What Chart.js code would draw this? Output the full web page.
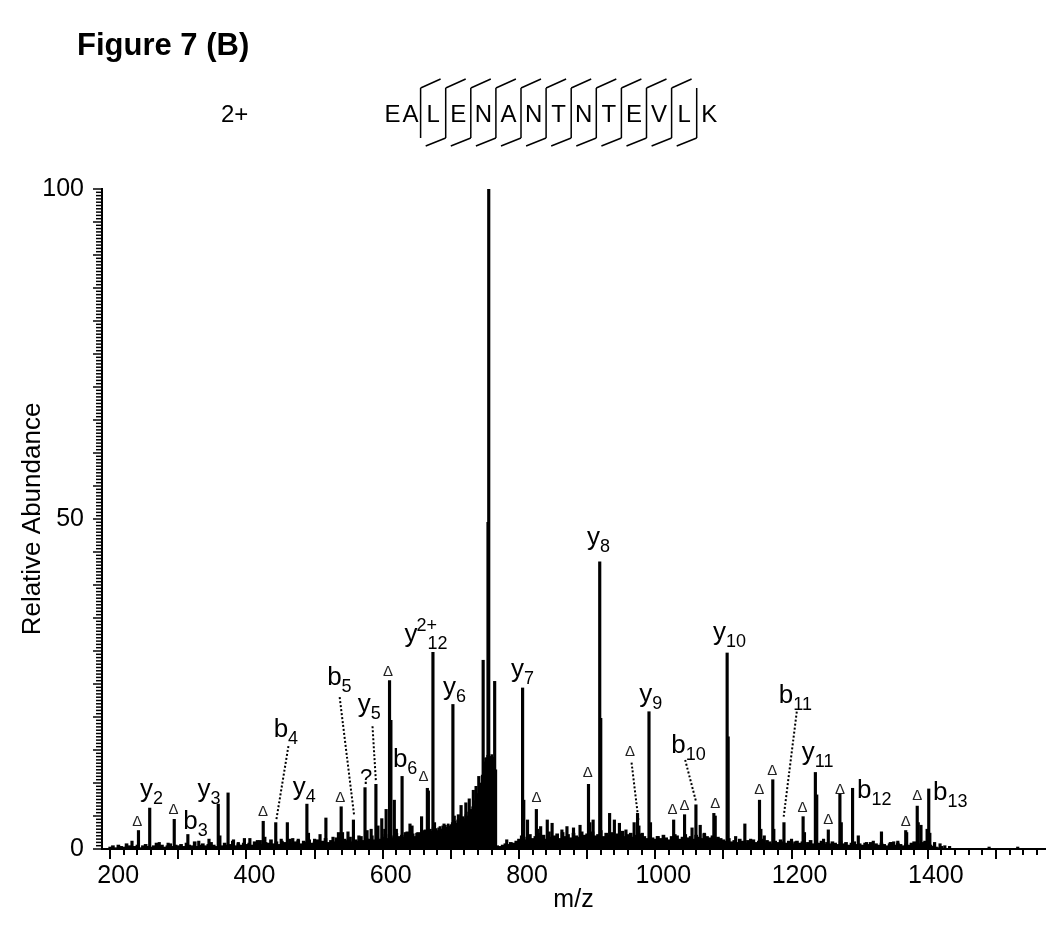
<!DOCTYPE html>
<html>
<head>
<meta charset="utf-8">
<script src="https://cdn.jsdelivr.net/npm/chart.js@4.4.1/dist/chart.umd.min.js"></script>
<style>
  html, body { margin: 0; padding: 0; background: #fff; }
  canvas { display: block; }
</style>
</head>
<body>
<canvas id="spectrum" width="1050" height="929"></canvas>
<script>
// MS/MS spectrum of EALENANTNTEVLK (2+), stick peaks on a linear m/z axis

// labelled and larger fragment peaks (m/z, relative abundance)
const peakMz = [232, 241.5, 258, 272, 285, 294, 314, 330, 345, 358.6, 361, 373, 381, 388, 397, 405, 416,
  424.6, 427, 443, 451, 460, 468, 476, 488.7, 491, 500, 508, 516.6, 527, 535, 539, 541, 549, 557, 565,
  574, 577, 583, 590, 593, 598.6, 603, 605, 610, 612, 617, 620, 628.4, 633, 640, 643, 650, 657, 665.5,
  667, 673.7, 676, 684, 690, 703, 705, 711, 715, 722, 727, 733, 737, 741, 747.4, 751.4, 754.5, 755.6,
  759.5, 764.3, 782, 805.3, 807, 812.5, 825.5, 827, 831.8, 841.5, 848.6, 863, 870.4, 880, 889.6, 902,
  904, 908.8, 918.5, 920, 933, 940, 947.4, 957, 969, 974, 976, 981, 990.8, 993, 1003, 1015, 1027, 1029,
  1043, 1054, 1059.7, 1066, 1072, 1086, 1088, 1105.5, 1107, 1118, 1131.5, 1140, 1153, 1155, 1160,
  1172.5, 1174, 1188.9, 1200, 1205, 1217, 1219, 1235, 1237, 1247, 1254, 1271, 1273, 1289.6, 1298,
  1310, 1320, 1332, 1345, 1350, 1356, 1367.6, 1369, 1384.5, 1386, 1390, 1399, 1401.4, 1403, 1410,
  1418, 1425, 1432, 1490, 1532];
const peakInt = [1.2, 2.8, 6.2, 1.0, 0.9, 4.5, 2.2, 1.2, 1.5, 6.8, 2.0, 8.5, 1.4, 1.0, 1.6, 1.6, 1.3,
  4.2, 1.8, 4.0, 1.5, 4.0, 1.6, 1.5, 6.8, 2.4, 1.5, 2.2, 4.7, 1.8, 2.5, 6.4, 2.5, 2.6, 4.4, 2.0,
  9.3, 2.8, 3.0, 9.8, 3.5, 4.6, 3.0, 6.0, 25.5, 19.5, 7.4, 3.0, 11.0, 2.5, 3.8, 3.5, 2.4, 4.9, 9.2,
  8.8, 29.8, 4.0, 3.0, 3.8, 21.9, 5.0, 5.2, 6.6, 7.0, 7.6, 8.9, 9.5, 11.0, 28.6, 13.8, 49.5, 100,
  14.0, 25.4, 1.4, 24.4, 7.4, 4.4, 6.0, 3.0, 3.4, 4.4, 3.9, 2.9, 3.4, 3.2, 3.6, 9.8,
  4.0, 4.4, 43.5, 19.8, 5.4, 4.4, 3.9, 2.9, 4.0, 5.4, 3.5, 2.4, 20.8, 4.0, 1.9, 1.4, 4.4, 2.2,
  5.2, 3.2, 6.7, 3.6, 2.4, 5.4, 5.0, 29.7, 17.0, 1.9, 3.8, 1.5, 7.4, 3.0, 2.0,
  10.5, 3.0, 4.0, 1.5, 1.1, 4.9, 2.5, 11.6, 8.2, 1.5, 2.9, 8.3, 4.0, 9.2, 2.0,
  1.0, 1.2, 2.6, 1.0, 1.1, 1.2, 2.8, 2.5, 6.5, 4.0, 3.6, 3.0, 9.1, 2.4, 1.0,
  0.8, 0.5, 0.4, 0.3, 0.3];

// chemical noise baseline, one reading every 4 m/z from 200 to 1420
const noiseStart = 200;
const noiseStep = 4;
const noiseLevels = [
  0.3, 0.5, 0.2, 0.6, 0.4, 0.3, 0.8, 0.5, 0.3, 0.4, 0.6, 0.2, 0.5, 0.7, 0.4, 0.3, 0.5, 0.9, 0.4, 0.6, 0.3, 0.5, 0.8, 0.4, 0.6,
  0.5, 0.7, 0.4, 0.9, 0.6, 0.5, 1.1, 0.4, 0.6, 0.8, 0.5, 0.7, 1.0, 0.6, 0.4, 0.8, 0.5, 0.9, 0.6, 0.7, 1.2, 0.5, 0.8, 0.6, 0.9,
  0.7, 0.9, 0.6, 1.1, 0.8, 1.3, 0.7, 1.0, 0.9, 1.4, 0.8, 1.1, 0.7, 1.2, 1.0, 0.8, 1.5, 0.9, 1.1, 1.3, 0.8, 1.2, 1.0, 1.4, 0.9,
  1.1, 1.4, 0.9, 1.2, 1.6, 1.0, 1.3, 1.1, 1.7, 1.2, 1.0, 1.5, 1.3, 1.8, 1.1, 1.4, 1.2, 1.9, 1.3, 1.6, 1.5, 2.0, 1.4, 1.7, 1.5,
  1.8, 2.2, 1.6, 2.0, 1.7, 2.4, 1.9, 2.1, 1.8, 2.6, 2.0, 2.3, 1.9, 2.5, 2.2, 2.8, 2.1, 2.4, 2.3, 2.7, 2.5, 3.0, 2.6, 3.2, 2.8,
  3.0, 3.4, 3.1, 3.6, 3.3, 3.8, 3.5, 4.0, 3.7, 4.2, 4.0, 4.5, 4.3, 4.8, 5.0, 5.5, 6.0, 0.5, 0.4, 0.6, 0.8, 0.7, 1.0, 0.9, 1.2,
  1.5, 2.0, 1.4, 1.8, 2.2, 1.6, 1.9, 2.4, 1.7, 2.1, 1.5, 2.6, 1.8, 2.0, 2.3, 1.6, 2.5, 1.9, 2.2, 1.7, 2.4, 2.0, 1.8, 2.6, 2.1,
  2.3, 1.8, 2.6, 2.0, 2.2, 2.8, 1.9, 2.4, 2.1, 2.5, 1.8, 2.3, 2.0, 2.7, 1.9, 2.2, 2.4, 1.8, 2.1, 1.7, 2.3, 1.9, 1.6, 2.0, 1.7,
  1.5, 1.9, 1.6, 2.1, 1.7, 1.4, 1.9, 1.6, 2.0, 1.5, 1.8, 2.2, 1.7, 1.9, 1.5, 2.1, 1.8, 1.6, 2.3, 1.9, 1.7, 2.0, 1.5, 1.8, 1.6,
  1.4, 1.2, 1.6, 1.1, 1.3, 1.0, 1.5, 1.2, 0.9, 1.3, 1.1, 1.4, 1.0, 1.2, 1.5, 0.9, 1.3, 1.1, 0.8, 1.2, 1.0, 1.4, 1.1, 0.9, 1.2,
  1.0, 0.8, 1.2, 0.9, 1.1, 0.7, 1.0, 1.3, 0.8, 1.1, 0.9, 1.2, 0.7, 1.0, 0.8, 1.1, 0.9, 0.7, 1.2, 0.8, 1.0, 0.6, 0.9, 1.1, 0.7,
  0.8, 0.6, 0.9, 0.7, 1.0, 0.5, 0.8, 0.6, 0.9, 0.7, 0.5, 0.8, 1.0, 0.6, 0.9, 0.7, 0.5, 0.8, 0.6, 0.9, 1.1, 0.7, 0.8, 1.0, 1.2,
  0.9, 0.6, 0.4, 0.3, 0.2, 0.4
];

// unresolved hump under the precursor, one reading every 2 m/z from 660 to 766
const humpStart = 660;
const humpStep = 2;
const humpLevels = [
  2.6, 2.9, 2.5, 3.1, 2.8, 3.0, 2.7, 3.3, 2.9, 3.1, 2.8, 3.2, 3.4, 3.0, 3.5, 3.2, 3.6, 3.3, 3.8, 3.5,
  3.7, 4.0, 3.6, 4.2, 3.9, 4.4, 4.1, 4.6, 4.3, 4.9, 4.6, 5.2, 5.0, 5.6, 5.3, 6.0, 6.4, 6.8, 7.3, 7.9,
  8.4, 9.2, 10.0, 11.2, 12.5, 13.2, 13.8, 14.2, 13.6, 14.0, 14.3, 13.9, 13.2, 12.0
];

const xTickLabels = [200, 400, 600, 800, 1000, 1200, 1400];
const yTickLabels = [0, 50, 100];

const sequence = ['E', 'A', 'L', 'E', 'N', 'A', 'N', 'T', 'N', 'T', 'E', 'V', 'L', 'K'];
const bIonsSeen = [3, 4, 5, 6, 7, 8, 9, 10, 11, 12, 13];
const yIonsSeen = [2, 3, 4, 5, 6, 7, 8, 9, 10, 11, 12];

// annotation anchors in data units (left end of text baseline)
const ionLabels = [
  { ion: 'y', sub: '2', at: [243.7, 7.9] },
  { ion: 'b', sub: '3', at: [307.3, 3.1] },
  { ion: 'y', sub: '3', at: [328.1, 7.9] },
  { ion: 'b', sub: '4', at: [439.9, 17.0] },
  { ion: 'y', sub: '4', at: [467.8, 8.2] },
  { ion: 'b', sub: '5', at: [518.4, 24.8] },
  { ion: 'y', sub: '5', at: [563.2, 20.8] },
  { ion: '?', sub: '', at: [566.7, 9.9] },
  { ion: 'b', sub: '6', at: [614.9, 12.5] },
  { ion: 'y', sup: '2+', sub: '12', at: [631.8, 31.4] },
  { ion: 'y', sub: '6', at: [688.6, 23.3] },
  { ion: 'y', sub: '7', at: [788.4, 26.1] },
  { ion: 'y', sub: '8', at: [899.9, 46.0] },
  { ion: 'y', sub: '9', at: [976.4, 22.3] },
  { ion: 'b', sub: '10', at: [1023.6, 14.5] },
  { ion: 'y', sub: '10', at: [1084.8, 31.7] },
  { ion: 'b', sub: '11', at: [1181.3, 22.1] },
  { ion: 'y', sub: '11', at: [1215, 13.5] },
  { ion: 'b', sub: '12', at: [1296, 7.8] },
  { ion: 'b', sub: '13', at: [1407.7, 7.4] }
];
const deltaMarks = [[239.9, 4.1], [292.9, 6.0], [424.4, 5.6], [537.8, 7.8], [607.6, 26.9], [659.7, 11.0],
  [825.6, 7.7], [900.8, 11.5], [962.9, 14.7], [1025.5, 5.9], [1042.9, 6.6], [1088.2, 6.9], [1152.8, 8.9],
  [1171.6, 11.9], [1216, 6.3], [1254, 4.4], [1271.3, 8.9], [1367.8, 4.1], [1384.6, 8.1]];
const leaders = [
  [[461.6, 15.6], [443.8, 4.4]],
  [[536.8, 23.0], [558, 5.1]],
  [[585, 18.6], [590, 10.2]],
  [[965.2, 13.1], [975.3, 4.4]],
  [[1043.9, 13.5], [1059.8, 7.2]],
  [[1207.7, 20.8], [1188.5, 4.9]]
];

const FONT = '"Liberation Sans", Arial, Helvetica, sans-serif';
Chart.defaults.font.family = FONT;
Chart.defaults.color = '#000';

const pairs = (xs, ys) => xs.map((v, i) => ({ x: v, y: ys[i] }));
const gridPairs = (start, step, ys) => ys.map((v, i) => ({ x: start + i * step, y: v }));

function drawIon(ctx, px, py, lab) {
  ctx.font = (lab.ion === '?' ? '22px ' : '26px ') + FONT;
  ctx.fillText(lab.ion, px, py);
  const w = ctx.measureText(lab.ion).width;
  ctx.font = '18px ' + FONT;
  if (lab.sup) ctx.fillText(lab.sup, px + w - 1, py - 11);
  if (lab.sub) ctx.fillText(lab.sub, px + w + (lab.sup ? 10 : 0), py + 7);
}

const decor = {
  id: 'decor',
  afterDraw(chart) {
    const { ctx } = chart;
    const x = chart.scales.x, y = chart.scales.y;
    ctx.save();
    ctx.strokeStyle = '#000';
    ctx.fillStyle = '#000';

    // tick marks
    ctx.lineWidth = 2;
    x.ticks.forEach(t => {
      const px = Math.round(x.getPixelForValue(t.value));
      const len = t.value % 100 === 0 ? 10 : 6;
      ctx.beginPath();
      ctx.moveTo(px, y.bottom);
      ctx.lineTo(px, y.bottom + len);
      ctx.stroke();
    });
    ctx.lineWidth = 1.5;
    y.ticks.forEach(t => {
      const py = y.getPixelForValue(t.value);
      const len = t.value % 5 === 0 ? 9 : 6;
      ctx.beginPath();
      ctx.moveTo(x.left, py);
      ctx.lineTo(x.left - len, py);
      ctx.stroke();
    });

    // dotted leader lines
    ctx.lineWidth = 2;
    ctx.setLineDash([2, 2]);
    leaders.forEach(([a, b]) => {
      ctx.beginPath();
      ctx.moveTo(x.getPixelForValue(a[0]), y.getPixelForValue(a[1]));
      ctx.lineTo(x.getPixelForValue(b[0]), y.getPixelForValue(b[1]));
      ctx.stroke();
    });
    ctx.setLineDash([]);

    // ion labels
    ctx.textAlign = 'left';
    ctx.textBaseline = 'alphabetic';
    ionLabels.forEach(lab => drawIon(ctx, x.getPixelForValue(lab.at[0]), y.getPixelForValue(lab.at[1]), lab));

    // neutral-loss triangles
    ctx.font = '15px ' + FONT;
    ctx.textAlign = 'center';
    ctx.textBaseline = 'middle';
    ctx.fillStyle = '#222';
    deltaMarks.forEach(([m, v]) => ctx.fillText('\u0394', x.getPixelForValue(m), y.getPixelForValue(v)));

    // header
    ctx.fillStyle = '#000';
    ctx.textAlign = 'left';
    ctx.textBaseline = 'alphabetic';
    ctx.font = 'bold 31px ' + FONT;
    ctx.fillText('Figure 7 (B)', 77, 55);
    ctx.font = '24px ' + FONT;
    ctx.fillText('2+', 221, 122);

    // sequence with fragment brackets
    const sep0 = 420.6, cell = 25.1, base = 122;
    ctx.textAlign = 'center';
    sequence.forEach((aa, i) => {
      let cx;
      if (i === 0) cx = 392.5;
      else if (i === 1) cx = 410.5;
      else cx = sep0 + (i - 2) * cell + cell / 2;
      ctx.fillText(aa, cx, base);
    });
    ctx.lineWidth = 1.5;
    for (let k = 1; k <= sequence.length - 2; k++) {
      const sx = sep0 + (k - 1) * cell;
      const nTerm = k + 1;               // residues before this cleavage
      const yIon = sequence.length - nTerm;
      ctx.beginPath();
      ctx.moveTo(sx, 88);
      ctx.lineTo(sx, 138);
      if (yIonsSeen.includes(yIon)) { ctx.moveTo(sx, 88); ctx.lineTo(sx + 20, 79); }
      if (bIonsSeen.includes(nTerm)) { ctx.moveTo(sx, 138); ctx.lineTo(sx - 20, 146); }
      ctx.stroke();
    }
    ctx.restore();
  }
};

new Chart(document.getElementById('spectrum'), {
  type: 'bar',
  data: {
    datasets: [
      { label: 'peaks', data: pairs(peakMz, peakInt), backgroundColor: '#000', barThickness: 2.5 },
      { label: 'hump', data: gridPairs(humpStart, humpStep, humpLevels), backgroundColor: '#000', barThickness: 2 },
      { label: 'noise', data: gridPairs(noiseStart, noiseStep, noiseLevels), backgroundColor: '#000', barThickness: 3 }
    ]
  },
  options: {
    responsive: false,
    animation: false,
    devicePixelRatio: 1,
    datasets: { bar: { grouped: false } },
    layout: { padding: { top: 189, right: 5, bottom: 0, left: 0 } },
    plugins: { legend: { display: false }, tooltip: { enabled: false } },
    scales: {
      x: {
        type: 'linear',
        min: 198,
        max: 1562,
        afterFit: s => { s.height = 80; },
        grid: { display: false, drawTicks: false },
        border: { display: true, color: '#000', width: 2 },
        ticks: {
          stepSize: 20,
          autoSkip: false,
          includeBounds: false,
          maxRotation: 0,
          minRotation: 0,
          padding: 12,
          labelOffset: 8,
          font: { size: 25 },
          color: '#000',
          callback: v => (xTickLabels.includes(v) ? String(v) : '')
        },
        title: { display: true, text: 'm/z', font: { size: 25 }, color: '#000', padding: { top: 0, bottom: 14 } }
      },
      y: {
        min: 0,
        max: 100,
        afterFit: s => { s.width = 102; },
        grid: { display: false, drawTicks: false },
        border: { display: true, color: '#000', width: 2 },
        ticks: {
          stepSize: 0.5,
          autoSkip: false,
          padding: 18,
          font: { size: 25 },
          color: '#000',
          callback: v => (yTickLabels.includes(v) ? String(v) : '')
        },
        title: { display: true, text: 'Relative Abundance', font: { size: 26 }, color: '#000', padding: { top: 17, bottom: 0 } }
      }
    }
  },
  plugins: [decor]
});
</script>
</body>
</html>
